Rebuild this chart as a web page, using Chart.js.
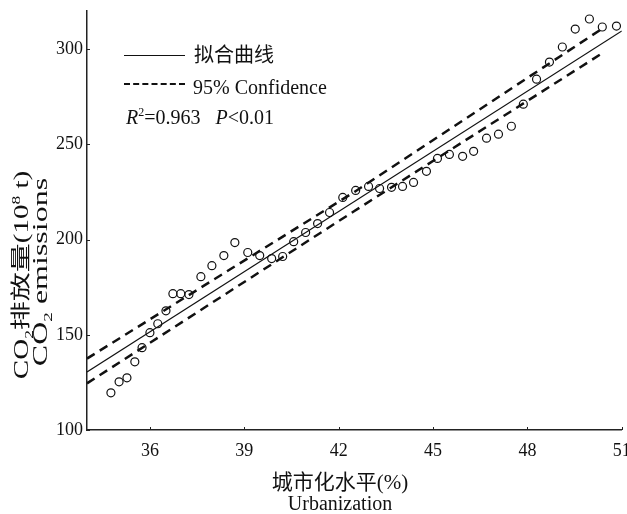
<!DOCTYPE html>
<html>
<head>
<meta charset="utf-8">
<script src="https://cdn.jsdelivr.net/npm/chart.js@4"></script>
<style>
  html, body { margin: 0; padding: 0; background: #fff; }
  #wrap { position: relative; width: 627px; height: 514px; font-family: "Liberation Serif", "Noto Sans CJK SC", serif; color: #111; }
  canvas { position: absolute; left: 0; top: 0; }
  .txt { position: absolute; white-space: nowrap; line-height: 1; }
  .rot { transform: translate(-50%, -50%) rotate(-90deg) scaleX(1.45); }
  .rot2 { transform: translate(-50%, -50%) rotate(-90deg) scaleX(1.6); }
  .ctr { transform: translate(-50%, -50%); }
  sub, sup { font-size: 0.6em; line-height: 0; }
  .swatch { position: absolute; height: 0; }
</style>
</head>
<body>
<div id="wrap">
  <canvas id="chart" width="627" height="514"></canvas>

  <div class="swatch" style="left:124px; top:55px; width:61px; border-top:1.2px solid #111;"></div>
  <div class="txt" style="left:194px; top:45px; font-size:20px;">拟合曲线</div>
  <div class="swatch" style="left:124px; top:83px; width:61px; border-top:2.5px dashed #111;"></div>
  <div class="txt" style="left:193px; top:77px; font-size:20px;">95% Confidence</div>
  <div class="txt" style="left:126px; top:107px; font-size:20px;"><i>R</i><sup>2</sup>=0.963&nbsp;&nbsp;&nbsp;<i>P</i>&lt;0.01</div>

  <div class="txt rot" style="left:21px; top:275px; font-size:20px;">CO<sub>2</sub>排放量(10<sup>8</sup> t)</div>
  <div class="txt rot2" style="left:40px; top:272px; font-size:20px;">CO<sub>2</sub> emissions</div>

  <div class="txt ctr" style="left:340px; top:482px; font-size:21px;">城市化水平(%)</div>
  <div class="txt ctr" style="left:340px; top:503px; font-size:20px;">Urbanization</div>
</div>
<script>
// urbanization level (%) and CO2 emissions (10^8 t)
const urbanization = [
  34.76, 35.02, 35.27, 35.52, 35.75, 36.0, 36.25, 36.51, 36.73, 36.98,
  37.24, 37.62, 37.97, 38.35, 38.7, 39.11, 39.49, 39.87, 40.22, 40.57,
  40.95, 41.33, 41.71, 42.13, 42.54, 42.95, 43.3, 43.68, 44.03, 44.38,
  44.79, 45.14, 45.52, 45.94, 46.29, 46.7, 47.08, 47.49, 47.87, 48.29,
  48.7, 49.11, 49.52, 49.97, 50.38, 50.83,
];
const emissions = [
  119.5, 125.3, 127.4, 135.8, 143.2, 151.1, 155.8, 162.6, 171.6, 171.6,
  171.1, 180.5, 186.3, 191.6, 198.4, 193.2, 191.6, 190.0, 191.1, 198.9,
  203.7, 208.4, 214.2, 222.1, 225.8, 227.9, 226.8, 227.4, 227.9, 230.0,
  235.8, 242.6, 244.7, 243.7, 246.3, 253.2, 255.3, 259.5, 271.1, 284.2,
  293.2, 301.1, 310.5, 315.8, 311.6, 312.1,
];

// fitted line and 95% confidence bounds
const fitX = [34, 51];
const fitY = [130.5, 309.5];
const upperX = [34, 42.5, 50.4];
const upperY = [137.5, 225, 311];
const lowerX = [34, 42.5, 50.3];
const lowerY = [124.5, 215, 297];

const xTicks = [36, 39, 42, 45, 48, 51];
const yTicks = [100, 150, 200, 250, 300];

const pts = (xs, ys) => xs.map((x, i) => ({ x, y: ys[i] }));

const tickFont = { family: "Liberation Serif", size: 18 };

// short tick marks pointing into the plot, like the original
const innerTicks = {
  id: "innerTicks",
  afterDraw(chart) {
    const { ctx, scales } = chart;
    const xs = scales.x, ys = scales.y;
    ctx.save();
    ctx.strokeStyle = "#222";
    ctx.lineWidth = 1;
    ctx.beginPath();
    for (const v of xTicks) {
      const p = Math.round(xs.getPixelForValue(v)) + 0.5;
      ctx.moveTo(p, ys.bottom);
      ctx.lineTo(p, ys.bottom - 3);
    }
    for (const v of yTicks) {
      const p = Math.round(ys.getPixelForValue(v)) + 0.5;
      ctx.moveTo(xs.left, p);
      ctx.lineTo(xs.left + 3, p);
    }
    ctx.stroke();
    ctx.restore();
  },
};

new Chart(document.getElementById("chart"), {
  type: "scatter",
  data: {
    datasets: [
      {
        label: "拟合曲线",
        data: pts(fitX, fitY),
        showLine: true,
        borderColor: "#111",
        borderWidth: 1.2,
        pointRadius: 0,
      },
      {
        label: "95% Confidence upper",
        data: pts(upperX, upperY),
        showLine: true,
        borderColor: "#111",
        borderWidth: 2.5,
        borderDash: [9, 6],
        pointRadius: 0,
      },
      {
        label: "95% Confidence lower",
        data: pts(lowerX, lowerY),
        showLine: true,
        borderColor: "#111",
        borderWidth: 2.5,
        borderDash: [9, 6],
        pointRadius: 0,
      },
      {
        label: "CO2 emissions",
        data: pts(urbanization, emissions),
        pointStyle: "circle",
        pointRadius: 4,
        pointBorderWidth: 1.2,
        pointBorderColor: "#111",
        pointBackgroundColor: "rgba(255,255,255,0)",
      },
    ],
  },
  options: {
    responsive: false,
    animation: false,
    devicePixelRatio: 1,
    layout: { padding: { left: 0, right: 5, top: 11, bottom: 0 } },
    plugins: { legend: { display: false }, tooltip: { enabled: false } },
    scales: {
      x: {
        type: "linear",
        min: 34,
        max: 51,
        afterBuildTicks: (s) => { s.ticks = xTicks.map((value) => ({ value })); },
        afterFit: (s) => { s.height = 84; s.paddingLeft = 0; s.paddingRight = 0; },
        grid: { display: false, drawTicks: false },
        border: { display: true, color: "#222", width: 1.5 },
        ticks: { color: "#111", font: tickFont, padding: 10, maxRotation: 0 },
      },
      y: {
        type: "linear",
        min: 100,
        max: 320,
        afterBuildTicks: (s) => { s.ticks = yTicks.map((value) => ({ value })); },
        afterFit: (s) => { s.width = 87; s.paddingTop = 0; s.paddingBottom = 0; },
        grid: { display: false, drawTicks: false },
        border: { display: true, color: "#222", width: 1.5 },
        ticks: { color: "#111", font: tickFont, padding: 4 },
      },
    },
  },
  plugins: [innerTicks],
});
</script>
</body>
</html>
